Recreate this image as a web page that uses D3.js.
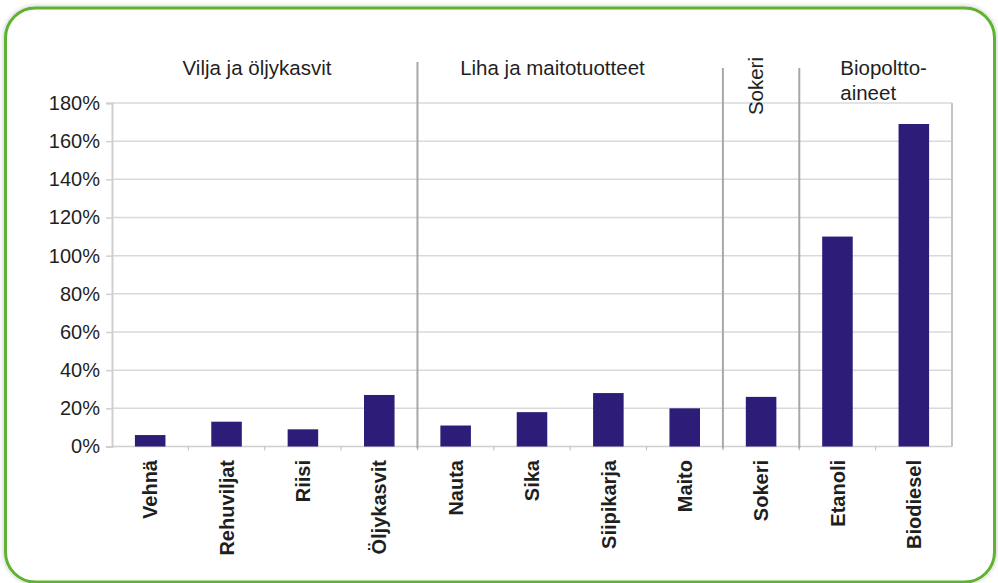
<!DOCTYPE html>
<html>
<head>
<meta charset="utf-8">
<script src="https://cdn.jsdelivr.net/npm/d3@7"></script>
<style>
  html, body { margin: 0; padding: 0; background: #fff; }
  svg { display: block; font-family: "Liberation Sans", Arial, sans-serif; }
</style>
</head>
<body>
<svg id="chart" width="998" height="583"></svg>
<script>
// Categories and their shares (%)
const categories = ["Vehnä", "Rehuviljat", "Riisi", "Öljykasvit",
                    "Nauta", "Sika", "Siipikarja", "Maito",
                    "Sokeri", "Etanoli", "Biodiesel"];
const values = [6, 13, 9, 27, 11, 18, 28, 20, 26, 110, 169];

// Category groups: header lines and number of categories in each
const groupNames = [["Vilja ja öljykasvit"], ["Liha ja maitotuotteet"], ["Sokeri"], ["Biopoltto-", "aineet"]];
const groupSizes = [4, 4, 1, 2];

// Y axis ticks (%)
const yTicks = [0, 20, 40, 60, 80, 100, 120, 140, 160, 180];

const svg = d3.select("#chart");
const plot = { left: 112, right: 952, top: 103, bottom: 446.5 };

// Rounded green frame with a soft shadow
const defs = svg.append("defs");
const f = defs.append("filter").attr("id", "shadow")
  .attr("x", "-5%").attr("y", "-5%").attr("width", "110%").attr("height", "110%");
f.append("feGaussianBlur").attr("in", "SourceAlpha").attr("stdDeviation", 2.5).attr("result", "b");
f.append("feComponentTransfer").attr("in", "b").attr("result", "s")
  .append("feFuncA").attr("type", "linear").attr("slope", 0.25);
const m = f.append("feMerge");
m.append("feMergeNode").attr("in", "s");
m.append("feMergeNode").attr("in", "SourceGraphic");

svg.append("rect")
  .attr("x", 5.5).attr("y", 8).attr("width", 989).attr("height", 574)
  .attr("rx", 30).attr("ry", 30)
  .attr("fill", "#fff").attr("stroke", "#5fb230").attr("stroke-width", 3)
  .attr("filter", "url(#shadow)");

// Scales
const x = d3.scaleBand()
  .domain(categories)
  .range([plot.left, plot.right])
  .paddingInner(0.6)
  .paddingOuter(0.3);
const y = d3.scaleLinear().domain([0, 180]).range([plot.bottom, plot.top]);
const step = x.step();
const slotStart = i => x(categories[i]) - step * x.paddingOuter();

// Horizontal gridlines
svg.append("g")
  .selectAll("line")
  .data(yTicks.filter(t => t > 0))
  .join("line")
  .attr("x1", plot.left).attr("x2", plot.right)
  .attr("y1", d => y(d)).attr("y2", d => y(d))
  .attr("stroke", "#d9d9d9").attr("stroke-width", 1.5);

// Right edge of the plot area
svg.append("line")
  .attr("x1", plot.right).attr("x2", plot.right)
  .attr("y1", plot.top).attr("y2", plot.bottom)
  .attr("stroke", "#c4c4c4").attr("stroke-width", 2);

// Y axis
const yAxis = svg.append("g")
  .attr("transform", `translate(${plot.left},0)`)
  .call(d3.axisLeft(y).tickValues(yTicks).tickFormat(d => d + "%").tickSize(6).tickPadding(6));
yAxis.select(".domain").attr("stroke", "#cfcfcf").attr("stroke-width", 2);
yAxis.selectAll(".tick line").attr("stroke", "#cfcfcf").attr("stroke-width", 1.5);
yAxis.selectAll(".tick text")
  .attr("font-size", "20px").attr("fill", "#1f1f1f")
  .attr("font-family", "Liberation Sans, Arial, sans-serif");

// X axis baseline with small ticks at category boundaries
svg.append("line")
  .attr("x1", plot.left).attr("x2", plot.right)
  .attr("y1", plot.bottom).attr("y2", plot.bottom)
  .attr("stroke", "#cfcfcf").attr("stroke-width", 1.5);
svg.append("g")
  .selectAll("line")
  .data(d3.range(1, categories.length))
  .join("line")
  .attr("x1", i => slotStart(i)).attr("x2", i => slotStart(i))
  .attr("y1", plot.bottom).attr("y2", plot.bottom + 4)
  .attr("stroke", "#bdbdbd").attr("stroke-width", 1);

// Group separators
const boundaries = Array.from(d3.cumsum(groupSizes)).slice(0, -1);
const sepTop = [62, 68, 68];
svg.append("g")
  .selectAll("line")
  .data(boundaries)
  .join("line")
  .attr("x1", i => slotStart(i)).attr("x2", i => slotStart(i))
  .attr("y1", (d, k) => sepTop[k]).attr("y2", plot.bottom + 2)
  .attr("stroke", "#a8a8a8").attr("stroke-width", 2);

// Bars
svg.append("g")
  .selectAll("rect")
  .data(categories.map((c, i) => ({ c, v: values[i] })))
  .join("rect")
  .attr("x", d => x(d.c))
  .attr("width", x.bandwidth())
  .attr("y", d => y(d.v))
  .attr("height", d => y(0) - y(d.v))
  .attr("fill", "#2e1d78");

// Category labels, rotated
svg.append("g")
  .selectAll("text")
  .data(categories)
  .join("text")
  .attr("transform", d => `translate(${x(d) + x.bandwidth() / 2},460) rotate(-90)`)
  .attr("text-anchor", "end")
  .attr("dy", "0.36em")
  .attr("font-size", "20px")
  .attr("font-weight", "bold")
  .attr("fill", "#1f1f1f")
  .text(d => d);

// Group headers
const groupStarts = [0, ...boundaries];
const headerLayout = [
  { dx: 145, y: 75, anchor: "middle", rotate: false },
  { dx: 135, y: 75, anchor: "middle", rotate: false },
  { dx: 33, y: 57, anchor: "end", rotate: true },
  { dx: 41, y: 75, anchor: "start", rotate: false }
];
groupNames.forEach((lines, g) => {
  const L = headerLayout[g];
  const gx = slotStart(groupStarts[g]) + L.dx;
  const t = svg.append("text")
    .attr("font-size", "20.5px")
    .attr("fill", "#1f1f1f")
    .attr("text-anchor", L.anchor);
  if (L.rotate) {
    t.attr("transform", `translate(${gx},${L.y}) rotate(-90)`)
      .attr("dy", "0.36em")
      .text(lines[0]);
  } else {
    lines.forEach((ln, k) => {
      t.append("tspan").attr("x", gx).attr("y", L.y + k * 25).text(ln);
    });
  }
});
</script>
</body>
</html>
